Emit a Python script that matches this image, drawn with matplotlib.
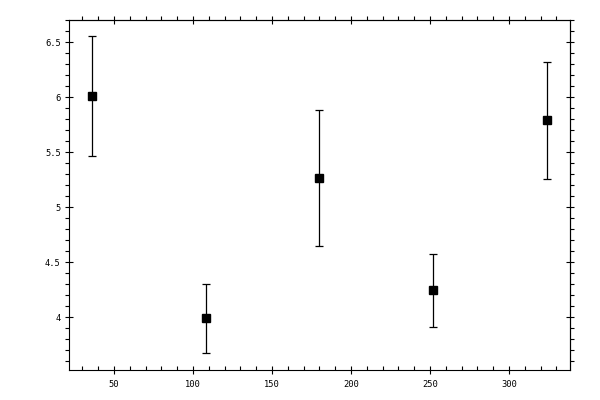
import numpy as np
import matplotlib
matplotlib.use("Agg")
import matplotlib.pyplot as plt
from matplotlib.ticker import MultipleLocator, FormatStrFormatter

# values
x_vals = [36, 108, 180, 252, 324]
y_vals = [6.015, 3.99, 5.264, 4.245, 5.791]
y_err = [0.545, 0.31, 0.618, 0.33, 0.533]

x_ticks = [50, 100, 150, 200, 250, 300]
y_ticks = [4, 4.5, 5, 5.5, 6, 6.5]

fig = plt.figure(figsize=(6, 4), dpi=100)
ax = fig.add_axes([0.115, 0.075, 0.835, 0.876])

ax.errorbar(x_vals, y_vals, yerr=y_err, fmt="s", color="black",
            markersize=5.6, elinewidth=0.9, capsize=2.6, capthick=0.9)

ax.set_xlim(21.5, 338.6)
ax.set_ylim(3.521, 6.707)

ax.set_xticks(x_ticks)
ax.set_yticks(y_ticks)
ax.xaxis.set_minor_locator(MultipleLocator(10))
ax.yaxis.set_minor_locator(MultipleLocator(0.1))
ax.yaxis.set_major_formatter(FormatStrFormatter("%g"))

for lab in ax.get_xticklabels() + ax.get_yticklabels():
    lab.set_fontfamily("DejaVu Sans Mono")
    lab.set_fontsize(6.3)

ax.tick_params(which="major", direction="inout", length=6, width=0.8, pad=3)
ax.tick_params(axis="x", which="major", pad=4)
ax.tick_params(axis="x", which="minor", direction="in", length=2.7, width=0.8)
ax.tick_params(axis="y", which="minor", direction="out", length=2.7, width=0.8)

for s in ax.spines.values():
    s.set_linewidth(0.8)

# top and right ticks, no labels
top = ax.secondary_xaxis("top")
top.set_xticks(x_ticks)
top.xaxis.set_minor_locator(MultipleLocator(10))
top.tick_params(which="major", direction="inout", length=6, width=0.8, labeltop=False)
top.tick_params(which="minor", direction="out", length=2.7, width=0.8)
top.spines["top"].set_linewidth(0.8)

right = ax.secondary_yaxis("right")
right.set_yticks(y_ticks)
right.yaxis.set_minor_locator(MultipleLocator(0.1))
right.tick_params(which="major", direction="inout", length=6, width=0.8, labelright=False)
right.tick_params(which="minor", direction="out", length=2.7, width=0.8)
right.spines["right"].set_linewidth(0.8)

fig.savefig("out.png", dpi=100)
